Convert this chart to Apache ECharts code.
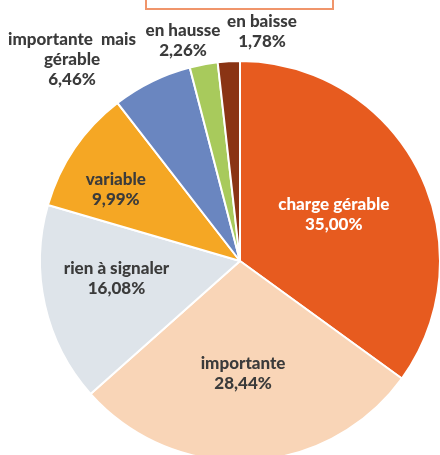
<!DOCTYPE html>
<html>
<head>
<meta charset="utf-8">
<script src="https://cdn.jsdelivr.net/npm/echarts@6/dist/echarts.min.js"></script>
<style>
  html, body { margin: 0; padding: 0; background: #fff; }
  #main { width: 440px; height: 455px; }
</style>
</head>
<body>
<div id="main"></div>
<script>
// données
var categories = ['charge gérable', 'importante', 'rien à signaler', 'variable',
                  'importante  mais\ngérable', 'en hausse', 'en baisse'];
var values = [35.00, 28.44, 16.08, 9.99, 6.46, 2.26, 1.78];
var colors = ['#E75B1F', '#F9D5B7', '#DEE4EA', '#F5A724', '#6A86C0', '#A8CA5C', '#8A3414'];

// décalages des étiquettes intérieures / positions des étiquettes extérieures
var insideOffset = [[2, 0], [-2, 10], [-23, -5], [-39, -14]];
var outsidePos = {4: [72, 60], 5: [183, 41], 6: [262, 32]};

function fmt(v){ return v.toFixed(2).replace('.', ',') + '%'; }

var data = categories.map(function(c, i){
    var item = { name: c, value: values[i], itemStyle: { color: colors[i] } };
    if (i < 4) {
        item.label = { position: 'inside', offset: insideOffset[i],
                       color: i === 0 ? '#fff' : '#3b3b3b' };
    } else {
        item.label = { position: 'outside', color: '#3b3b3b' };
        item.labelLine = { show: false };
    }
    return item;
});

var chart = echarts.init(document.getElementById('main'));
chart.setOption({
    animation: false,
    graphic: [
        { type: 'rect', shape: { x: 146, y: -30, width: 187, height: 39 },
          style: { fill: '#fff', stroke: '#F0956B', lineWidth: 2 } },
        { type: 'text', x: 240, y: 4,
          style: { text: 'en % - Thèmes', fill: '#555', font: 'bold 20px Lato',
                   textAlign: 'center', textVerticalAlign: 'bottom' } }
    ],
    series: [{
        type: 'pie',
        center: [240, 261],
        radius: 200,
        startAngle: 90,
        clockwise: true,
        avoidLabelOverlap: false,
        itemStyle: { borderColor: '#fff', borderWidth: 2 },
        label: {
            show: true,
            fontFamily: 'Lato',
            fontWeight: 900,
            fontSize: 17,
            lineHeight: 20,
            align: 'center',
            formatter: function(p){ return p.name + '\n' + fmt(p.value); }
        },
        labelLayout: function(p){
            var pos = outsidePos[p.dataIndex];
            if (!pos) return {};
            return { x: pos[0], y: pos[1], align: 'center', verticalAlign: 'middle' };
        },
        emphasis: { disabled: true },
        data: data
    }]
});
</script>
</body>
</html>
